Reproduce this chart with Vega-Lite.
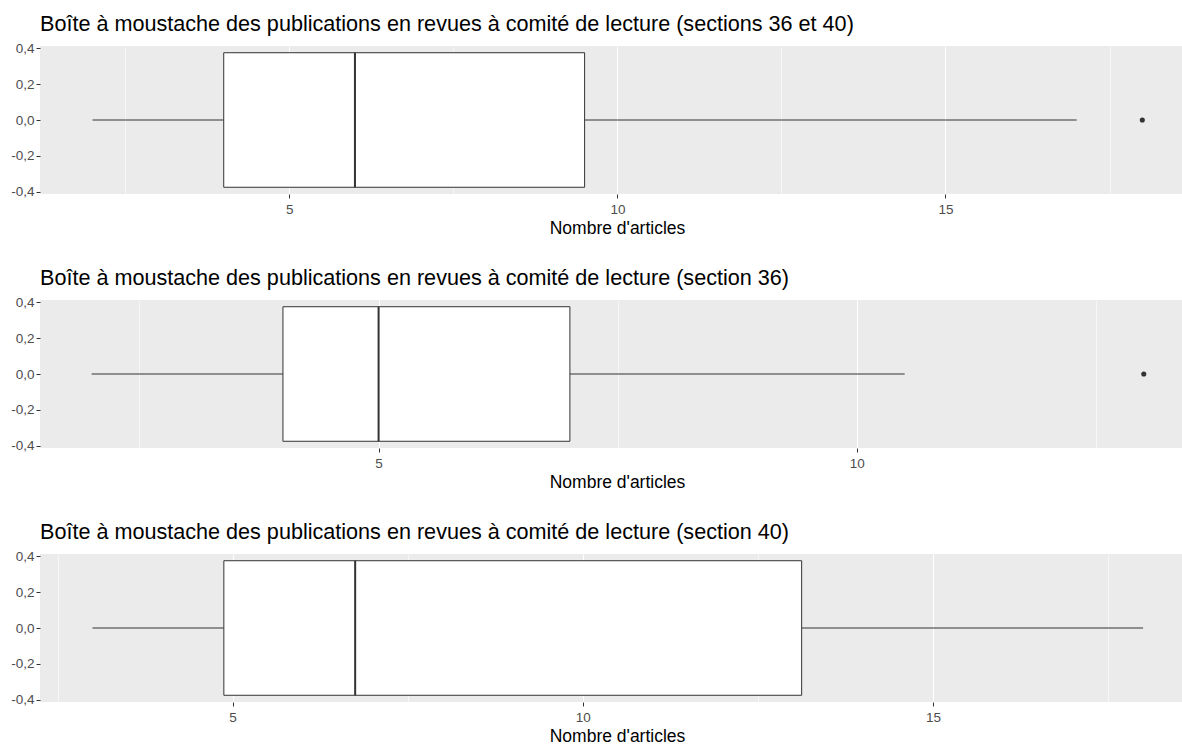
{
  "$schema": "https://vega.github.io/schema/vega-lite/v6.json",
  "padding": {"left": 10, "top": 13, "right": 0, "bottom": 0},
  "background": "white",
  "spacing": 30,
  "config": {
    "font": "Liberation Sans",
    "view": {"fill": "#EBEBEB", "stroke": null},
    "axis": {
      "domain": false,
      "gridColor": "white",
      "tickColor": "#333333",
      "tickSize": 4,
      "tickWidth": 1,
      "labelColor": "#4D4D4D",
      "labelFont": "Liberation Sans",
      "labelFontSize": 13.5,
      "labelPadding": 2,
      "titleFont": "Liberation Sans",
      "titleFontWeight": "normal",
      "titleFontSize": 17.5,
      "titleColor": "black",
      "titlePadding": 3.5
    },
    "axisX": {"labelPadding": 4.5},
    "title": {"font": "Liberation Sans", "fontSize": 21.6, "fontWeight": "normal", "color": "black", "anchor": "start", "frame": "group", "offset": 6}
  },
  "datasets": {
    "box1": [{"lo": 2, "q1": 4, "med": 6, "q3": 9.5, "hi": 17}],
    "out1": [{"value": 18}],
    "box2": [{"lo": 2, "q1": 4, "med": 5, "q3": 7, "hi": 10.5}],
    "out2": [{"value": 13}],
    "box3": [{"lo": 3, "q1": 4.875, "med": 6.75, "q3": 13.125, "hi": 18}]
  },
  "vconcat": [
    {
      "title": "Boîte à moustache des publications en revues à comité de lecture (sections 36 et 40)",
      "width": 1143,
      "height": 148,
      "data": {"name": "box1"},
      "encoding": {
        "x": {"type": "quantitative", "scale": {"domain": [1.2, 18.62], "nice": false, "zero": false},
          "axis": {"title": "Nombre d'articles", "titleX": 577, "values": [2.5, 5, 7.5, 10, 12.5, 15, 17.5], "labelExpr": "datum.value % 5 === 0 ? datum.label : ''",
            "gridWidth": {"condition": {"test": "datum.value % 5 === 0", "value": 1.1}, "value": 0.55},
            "tickOpacity": {"condition": {"test": "datum.value % 5 === 0", "value": 1}, "value": 0}}},
        "y": {"type": "quantitative", "scale": {"domain": [-0.4125, 0.4125], "nice": false, "zero": false},
          "axis": {"title": null, "values": [-0.4, -0.3, -0.2, -0.1, 0, 0.1, 0.2, 0.3, 0.4],
            "labelExpr": "abs(round(datum.value*10)) % 2 === 0 ? (datum.value < -0.001 ? '-' : '') + replace(format(abs(datum.value), '.1f'), '.', ',') : ''",
            "gridWidth": {"condition": {"test": "abs(round(datum.value*10)) % 2 === 0", "value": 1.1}, "value": 0.55},
            "tickOpacity": {"condition": {"test": "abs(round(datum.value*10)) % 2 === 0", "value": 1}, "value": 0}}}
      },
      "layer": [
        {"mark": {"type": "rule", "color": "#333333", "strokeWidth": 1}, "encoding": {"x": {"field": "lo"}, "x2": {"field": "q1"}, "y": {"datum": 0}}},
        {"mark": {"type": "rule", "color": "#333333", "strokeWidth": 1}, "encoding": {"x": {"field": "q3"}, "x2": {"field": "hi"}, "y": {"datum": 0}}},
        {"mark": {"type": "rect", "fill": "white", "stroke": "#333333", "strokeWidth": 1}, "encoding": {"x": {"field": "q1"}, "x2": {"field": "q3"}, "y": {"datum": -0.375}, "y2": {"datum": 0.375}}},
        {"mark": {"type": "rule", "color": "#333333", "strokeWidth": 2}, "encoding": {"x": {"field": "med"}, "y": {"datum": -0.375}, "y2": {"datum": 0.375}}},
        {"data": {"name": "out1"}, "mark": {"type": "point", "filled": true, "color": "#333333", "opacity": 1, "size": 26}, "encoding": {"x": {"field": "value"}, "y": {"datum": 0}}}
      ]
    },
    {
      "title": "Boîte à moustache des publications en revues à comité de lecture (section 36)",
      "width": 1143,
      "height": 148,
      "data": {"name": "box2"},
      "encoding": {
        "x": {"type": "quantitative", "scale": {"domain": [1.46, 13.41], "nice": false, "zero": false},
          "axis": {"title": "Nombre d'articles", "titleX": 577, "values": [2.5, 5, 7.5, 10, 12.5], "labelExpr": "datum.value % 5 === 0 ? datum.label : ''",
            "gridWidth": {"condition": {"test": "datum.value % 5 === 0", "value": 1.1}, "value": 0.55},
            "tickOpacity": {"condition": {"test": "datum.value % 5 === 0", "value": 1}, "value": 0}}},
        "y": {"type": "quantitative", "scale": {"domain": [-0.4125, 0.4125], "nice": false, "zero": false},
          "axis": {"title": null, "values": [-0.4, -0.3, -0.2, -0.1, 0, 0.1, 0.2, 0.3, 0.4],
            "labelExpr": "abs(round(datum.value*10)) % 2 === 0 ? (datum.value < -0.001 ? '-' : '') + replace(format(abs(datum.value), '.1f'), '.', ',') : ''",
            "gridWidth": {"condition": {"test": "abs(round(datum.value*10)) % 2 === 0", "value": 1.1}, "value": 0.55},
            "tickOpacity": {"condition": {"test": "abs(round(datum.value*10)) % 2 === 0", "value": 1}, "value": 0}}}
      },
      "layer": [
        {"mark": {"type": "rule", "color": "#333333", "strokeWidth": 1}, "encoding": {"x": {"field": "lo"}, "x2": {"field": "q1"}, "y": {"datum": 0}}},
        {"mark": {"type": "rule", "color": "#333333", "strokeWidth": 1}, "encoding": {"x": {"field": "q3"}, "x2": {"field": "hi"}, "y": {"datum": 0}}},
        {"mark": {"type": "rect", "fill": "white", "stroke": "#333333", "strokeWidth": 1}, "encoding": {"x": {"field": "q1"}, "x2": {"field": "q3"}, "y": {"datum": -0.375}, "y2": {"datum": 0.375}}},
        {"mark": {"type": "rule", "color": "#333333", "strokeWidth": 2}, "encoding": {"x": {"field": "med"}, "y": {"datum": -0.375}, "y2": {"datum": 0.375}}},
        {"data": {"name": "out2"}, "mark": {"type": "point", "filled": true, "color": "#333333", "opacity": 1, "size": 26}, "encoding": {"x": {"field": "value"}, "y": {"datum": 0}}}
      ]
    },
    {
      "title": "Boîte à moustache des publications en revues à comité de lecture (section 40)",
      "width": 1143,
      "height": 148,
      "data": {"name": "box3"},
      "encoding": {
        "x": {"type": "quantitative", "scale": {"domain": [2.25, 18.57], "nice": false, "zero": false},
          "axis": {"title": "Nombre d'articles", "titleX": 577, "values": [2.5, 5, 7.5, 10, 12.5, 15, 17.5], "labelExpr": "datum.value % 5 === 0 ? datum.label : ''",
            "gridWidth": {"condition": {"test": "datum.value % 5 === 0", "value": 1.1}, "value": 0.55},
            "tickOpacity": {"condition": {"test": "datum.value % 5 === 0", "value": 1}, "value": 0}}},
        "y": {"type": "quantitative", "scale": {"domain": [-0.4125, 0.4125], "nice": false, "zero": false},
          "axis": {"title": null, "values": [-0.4, -0.3, -0.2, -0.1, 0, 0.1, 0.2, 0.3, 0.4],
            "labelExpr": "abs(round(datum.value*10)) % 2 === 0 ? (datum.value < -0.001 ? '-' : '') + replace(format(abs(datum.value), '.1f'), '.', ',') : ''",
            "gridWidth": {"condition": {"test": "abs(round(datum.value*10)) % 2 === 0", "value": 1.1}, "value": 0.55},
            "tickOpacity": {"condition": {"test": "abs(round(datum.value*10)) % 2 === 0", "value": 1}, "value": 0}}}
      },
      "layer": [
        {"mark": {"type": "rule", "color": "#333333", "strokeWidth": 1}, "encoding": {"x": {"field": "lo"}, "x2": {"field": "q1"}, "y": {"datum": 0}}},
        {"mark": {"type": "rule", "color": "#333333", "strokeWidth": 1}, "encoding": {"x": {"field": "q3"}, "x2": {"field": "hi"}, "y": {"datum": 0}}},
        {"mark": {"type": "rect", "fill": "white", "stroke": "#333333", "strokeWidth": 1}, "encoding": {"x": {"field": "q1"}, "x2": {"field": "q3"}, "y": {"datum": -0.375}, "y2": {"datum": 0.375}}},
        {"mark": {"type": "rule", "color": "#333333", "strokeWidth": 2}, "encoding": {"x": {"field": "med"}, "y": {"datum": -0.375}, "y2": {"datum": 0.375}}}
      ]
    }
  ]
}
